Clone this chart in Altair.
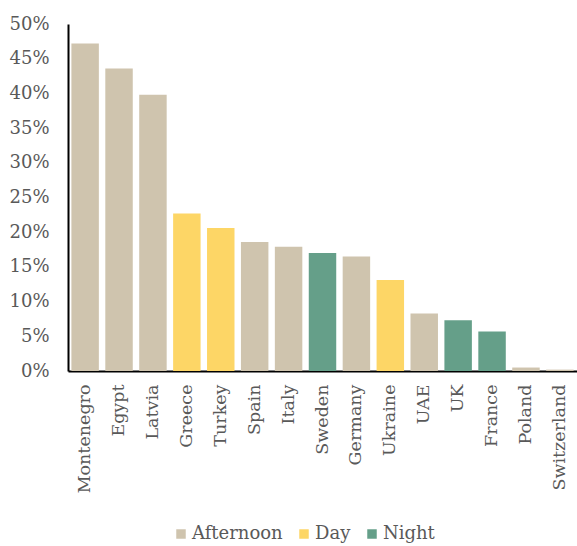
import altair as alt
import pandas as pd

countries = ["Montenegro", "Egypt", "Latvia", "Greece", "Turkey", "Spain", "Italy",
             "Sweden", "Germany", "Ukraine", "UAE", "UK", "France", "Poland", "Switzerland"]
shares = [0.472, 0.436, 0.398, 0.227, 0.206, 0.186, 0.179,
          0.170, 0.165, 0.131, 0.083, 0.073, 0.057, 0.005, 0.002]
periods = ["Afternoon", "Afternoon", "Afternoon", "Day", "Day", "Afternoon", "Afternoon",
           "Night", "Afternoon", "Day", "Afternoon", "Night", "Night", "Afternoon", "Afternoon"]

period_names = ["Afternoon", "Day", "Night"]
period_colors = ["#CFC4AE", "#FDD666", "#659F89"]

df = pd.DataFrame({"country": countries, "share": shares, "period": periods})

FONT = "DejaVu Serif"
GREY = "#595959"

chart = (
    alt.Chart(df)
    .mark_bar()
    .encode(
        x=alt.X(
            "country:N",
            sort=countries,
            title=None,
            scale=alt.Scale(paddingInner=0.19, paddingOuter=0.1),
            axis=alt.Axis(
                labelAngle=-90,
                labelAlign="right",
                labelBaseline="middle",
                labelFont=FONT,
                labelFontSize=17.5,
                labelColor=GREY,
                labelPadding=13,
                ticks=False,
                grid=False,
                domainColor="#000000",
                domainWidth=2,
            ),
        ),
        y=alt.Y(
            "share:Q",
            title=None,
            scale=alt.Scale(domain=[0, 0.5], nice=False),
            axis=alt.Axis(
                values=[i * 0.05 for i in range(11)],
                format=".0%",
                labelFont=FONT,
                labelFontSize=18,
                labelColor=GREY,
                labelPadding=19,
                ticks=False,
                grid=False,
                domainColor="#000000",
                domainWidth=2,
            ),
        ),
        color=alt.Color(
            "period:N",
            scale=alt.Scale(domain=period_names, range=period_colors),
            legend=alt.Legend(
                title=None,
                orient="none",
                direction="horizontal",
                legendX=104,
                legendY=501,
                symbolType="square",
                symbolSize=90,
                symbolStrokeWidth=0,
                labelFont=FONT,
                labelFontSize=18,
                labelColor=GREY,
                columnPadding=12,
                labelOffset=2,
            ),
        ),
    )
    .properties(
        width=509,
        height=347,
        background="#FFFFFF",
        padding={"left": 68, "top": 24, "right": 0, "bottom": 175},
        autosize=alt.AutoSizeParams(type="none"),
    )
    .configure_view(stroke="transparent", strokeWidth=0)
)

chart.save("out.html", embed_options={"renderer": "svg", "actions": False})
